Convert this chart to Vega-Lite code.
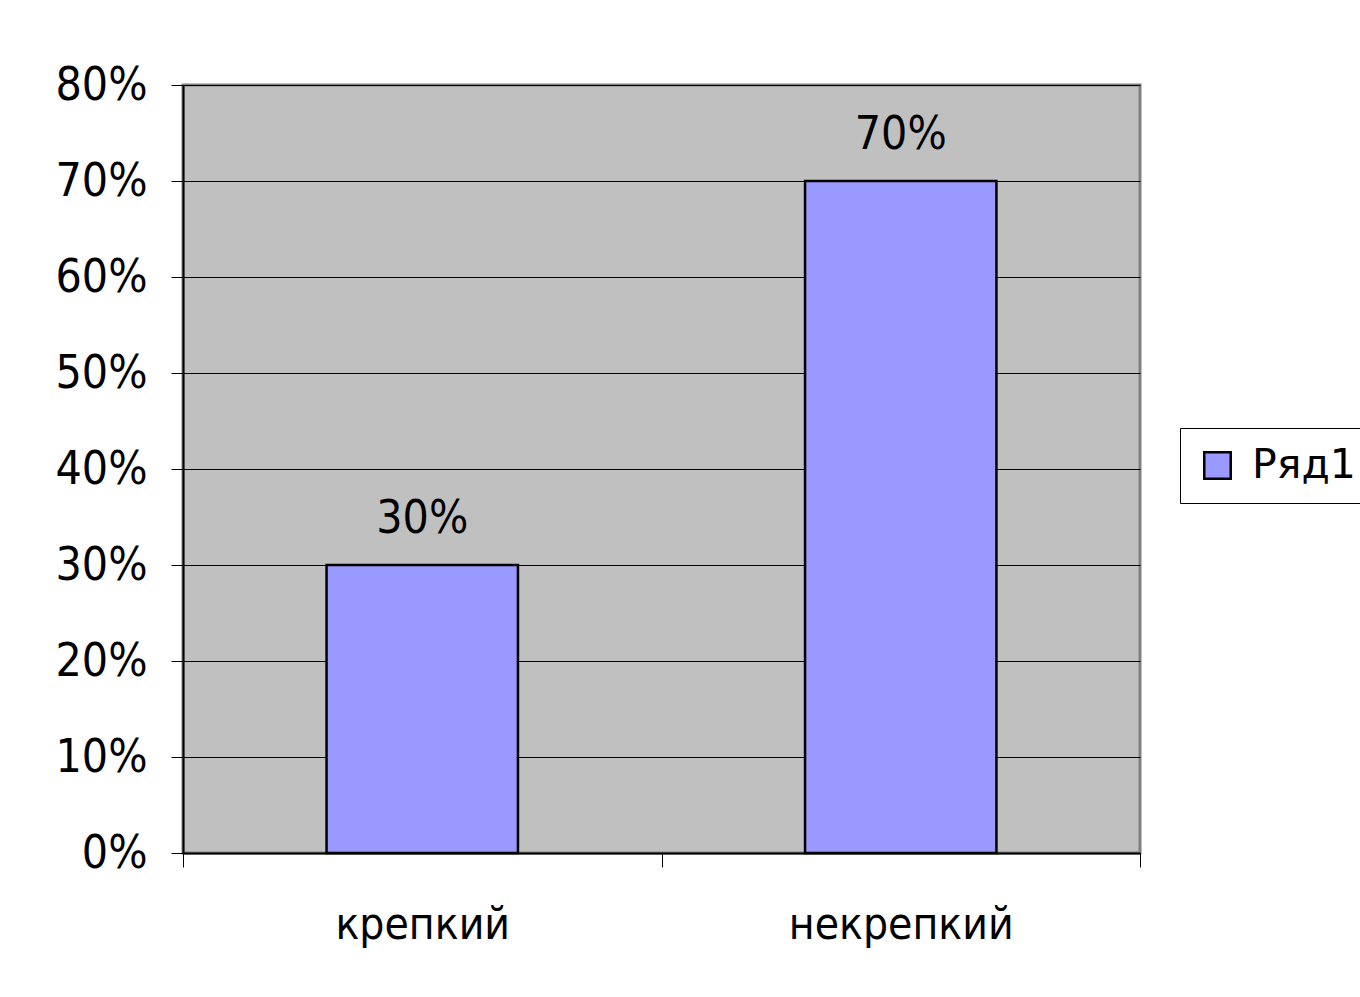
{
  "$schema": "https://vega.github.io/schema/vega-lite/v6.json",
  "autosize": {"type": "none"},
  "padding": {"left": 183, "top": 85, "right": 220, "bottom": 144},
  "width": 957,
  "height": 768,
  "background": "white",
  "data": {
    "values": [
      {"category": "крепкий", "value": 0.3, "series": "Ряд1"},
      {"category": "некрепкий", "value": 0.7, "series": "Ряд1"}
    ]
  },
  "config": {
    "font": "DejaVu Sans Condensed, Liberation Sans",
    "view": {"fill": "#C0C0C0", "stroke": "#808080", "strokeWidth": 3}
  },
  "encoding": {
    "x": {
      "field": "category",
      "type": "nominal",
      "sort": null,
      "scale": {"paddingInner": 0, "paddingOuter": 0},
      "axis": {
        "title": null,
        "labelAngle": 0,
        "labelFont": "DejaVu Sans Condensed, Liberation Sans",
        "labelFontSize": 44,
        "labelColor": "black",
        "labelPadding": 36,
        "labelLimit": 0,
        "tickBand": "extent",
        "tickSize": 14,
        "tickColor": "black",
        "domainColor": "black",
        "domainWidth": 2,
        "grid": false
      }
    },
    "y": {
      "field": "value",
      "type": "quantitative",
      "scale": {"domain": [0, 0.8], "nice": false},
      "axis": {
        "title": null,
        "format": ".0%",
        "values": [0, 0.1, 0.2, 0.3, 0.4, 0.5, 0.6, 0.7, 0.8],
        "labelFont": "DejaVu Sans Condensed, Liberation Sans",
        "labelFontSize": 46,
        "labelColor": "black",
        "labelPadding": 24,
        "tickSize": 12,
        "tickColor": "black",
        "domainColor": "black",
        "domainWidth": 2,
        "grid": true,
        "gridColor": "black",
        "gridWidth": 1
      }
    }
  },
  "layer": [
    {
      "mark": {"type": "bar", "width": {"band": 0.4}, "stroke": "black", "strokeWidth": 2.5},
      "encoding": {
        "color": {
          "field": "series",
          "type": "nominal",
          "scale": {"range": ["#9999FF"]},
          "legend": {
            "title": null,
            "orient": "none",
            "legendX": 997,
            "legendY": 343,
            "strokeColor": "black",
            "fillColor": "white",
            "padding": 17,
            "symbolType": "square",
            "symbolSize": 700,
            "symbolStrokeColor": "black",
            "symbolStrokeWidth": 2.5,
            "symbolOpacity": 1,
            "labelFont": "DejaVu Sans",
            "labelFontSize": 41,
            "labelColor": "black",
            "labelOffset": 14,
            "labelLimit": 400
          }
        }
      }
    },
    {
      "mark": {"type": "text", "dy": -32, "baseline": "alphabetic", "fontSize": 46, "font": "DejaVu Sans Condensed, Liberation Sans", "color": "black"},
      "encoding": {
        "text": {"field": "value", "type": "quantitative", "format": ".0%"}
      }
    }
  ]
}
